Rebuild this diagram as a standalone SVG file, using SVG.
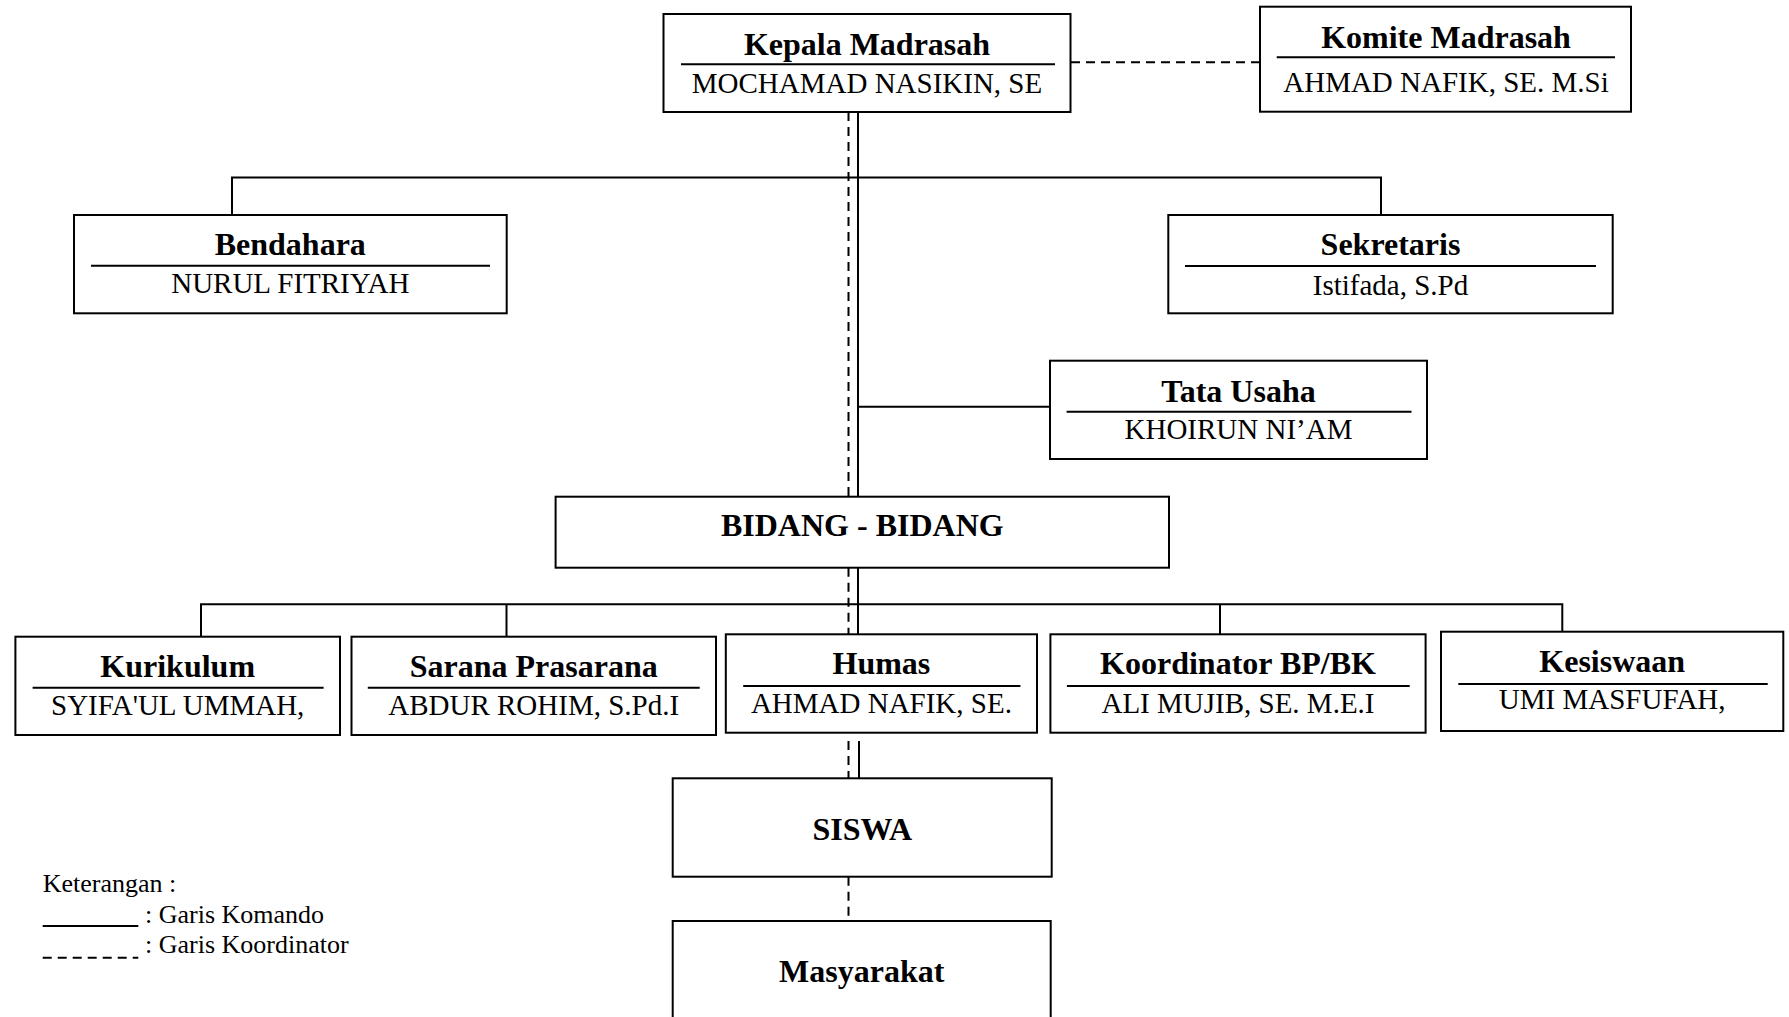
<svg xmlns="http://www.w3.org/2000/svg" width="1789" height="1017" viewBox="0 0 1789 1017">
<style>
.box{fill:#fff;stroke:#000;stroke-width:2}
.ul{stroke:#000;stroke-width:2}
.t{font-family:"Liberation Serif","Times New Roman",serif;font-weight:bold;font-size:32px;text-anchor:middle;fill:#000}
.n{font-family:"Liberation Serif","Times New Roman",serif;font-size:29px;text-anchor:middle;fill:#000}
.lg{font-family:"Liberation Serif","Times New Roman",serif;font-size:26px;fill:#000}
.sol{stroke:#000;stroke-width:2;fill:none}
.dsh{stroke:#000;stroke-width:2;fill:none;stroke-dasharray:9 6}
</style>
<rect width="1789" height="1017" fill="#fff"/>
<g id="connectors">
<line class="sol" x1="858" y1="112" x2="858" y2="497"/>
<line class="dsh" x1="848.5" y1="112" x2="848.5" y2="497"/>
<line class="dsh" x1="1071" y1="62.3" x2="1260" y2="62.3"/>
<polyline class="sol" points="232,215 232,177.5 1381,177.5 1381,215"/>
<line class="sol" x1="858" y1="406.7" x2="1050" y2="406.7"/>
<line class="sol" x1="858" y1="567.7" x2="858" y2="634.3"/>
<line class="dsh" x1="848.5" y1="567.7" x2="848.5" y2="634.3"/>
<polyline class="sol" points="201,636.7 201,604.3 1562.3,604.3 1562.3,631.7"/>
<line class="sol" x1="506.5" y1="604.3" x2="506.5" y2="636.7"/>
<line class="sol" x1="1220" y1="604.3" x2="1220" y2="634.3"/>
<line class="sol" x1="859" y1="741" x2="859" y2="778.3"/>
<line class="dsh" x1="848.5" y1="741" x2="848.5" y2="778.3"/>
<line class="dsh" x1="848.5" y1="876.7" x2="848.5" y2="921"/>
</g>
<g id="kepala">
<rect class="box" x="663.5" y="14" width="407" height="98"/>
<line class="ul" x1="681" y1="64.3" x2="1055" y2="64.3"/>
<text class="t" x="867" y="55">Kepala Madrasah</text>
<text class="n" x="867" y="92.7">MOCHAMAD NASIKIN, SE</text>
</g>
<g id="komite">
<rect class="box" x="1260" y="6.7" width="371" height="105"/>
<line class="ul" x1="1276.7" y1="57.3" x2="1615" y2="57.3"/>
<text class="t" x="1446" y="48.3">Komite Madrasah</text>
<text class="n" x="1446" y="91.7">AHMAD NAFIK, SE. M.Si</text>
</g>
<g id="bendahara">
<rect class="box" x="74" y="215" width="432.7" height="98.3"/>
<line class="ul" x1="91" y1="265.7" x2="490" y2="265.7"/>
<text class="t" x="290.3" y="255">Bendahara</text>
<text class="n" x="290.3" y="293.3">NURUL FITRIYAH</text>
</g>
<g id="sekretaris">
<rect class="box" x="1168.3" y="215" width="444.4" height="98.3"/>
<line class="ul" x1="1185" y1="266" x2="1596" y2="266"/>
<text class="t" x="1390.5" y="255">Sekretaris</text>
<text class="n" x="1390.5" y="295">Istifada, S.Pd</text>
</g>
<g id="tata-usaha">
<rect class="box" x="1050" y="360.7" width="377" height="98.3"/>
<line class="ul" x1="1066.6" y1="411.7" x2="1411.5" y2="411.7"/>
<text class="t" x="1238.5" y="401.7">Tata Usaha</text>
<text class="n" x="1238.5" y="439">KHOIRUN NI’AM</text>
</g>
<g id="bidang">
<rect class="box" x="555.6" y="496.7" width="613.4" height="71"/>
<text class="t" x="862.3" y="536">BIDANG - BIDANG</text>
</g>
<g id="kurikulum">
<rect class="box" x="15.4" y="636.7" width="324.6" height="98.3"/>
<line class="ul" x1="32.6" y1="687.7" x2="323.6" y2="687.7"/>
<text class="t" x="177.7" y="676.7">Kurikulum</text>
<text class="n" x="177.7" y="715">SYIFA'UL UMMAH,</text>
</g>
<g id="sarana">
<rect class="box" x="351.5" y="636.7" width="364.5" height="98.3"/>
<line class="ul" x1="367.8" y1="687.7" x2="699.7" y2="687.7"/>
<text class="t" x="533.7" y="676.7">Sarana Prasarana</text>
<text class="n" x="533.7" y="715">ABDUR ROHIM, S.Pd.I</text>
</g>
<g id="humas">
<rect class="box" x="725.8" y="634.3" width="311.2" height="98.4"/>
<line class="ul" x1="743.2" y1="686" x2="1020.4" y2="686"/>
<text class="t" x="881.4" y="674.3">Humas</text>
<text class="n" x="881.4" y="712.7">AHMAD NAFIK, SE.</text>
</g>
<g id="koordinator">
<rect class="box" x="1050.4" y="634.3" width="375.2" height="98.4"/>
<line class="ul" x1="1066.9" y1="686" x2="1409.7" y2="686"/>
<text class="t" x="1238" y="674.3">Koordinator BP/BK</text>
<text class="n" x="1238" y="712.7">ALI MUJIB, SE. M.E.I</text>
</g>
<g id="kesiswaan">
<rect class="box" x="1441" y="631.7" width="342.3" height="99.3"/>
<line class="ul" x1="1458.3" y1="684" x2="1767.7" y2="684"/>
<text class="t" x="1612.2" y="671.7">Kesiswaan</text>
<text class="n" x="1612.2" y="709.3">UMI MASFUFAH,</text>
</g>
<g id="siswa">
<rect class="box" x="672.7" y="778.3" width="379" height="98.4"/>
<text class="t" x="862.2" y="840">SISWA</text>
</g>
<g id="masyarakat">
<rect class="box" x="672.7" y="921" width="378" height="110"/>
<text class="t" x="861.7" y="981.7">Masyarakat</text>
</g>
<g id="legend">
<text class="lg" x="42.7" y="891.7">Keterangan :</text>
<line class="sol" x1="42.7" y1="926" x2="138.3" y2="926"/>
<text class="lg" x="145" y="922.7">: Garis Komando</text>
<line class="dsh" x1="42.7" y1="957.7" x2="138.3" y2="957.7"/>
<text class="lg" x="145" y="952.7">: Garis Koordinator</text>
</g>
</svg>
